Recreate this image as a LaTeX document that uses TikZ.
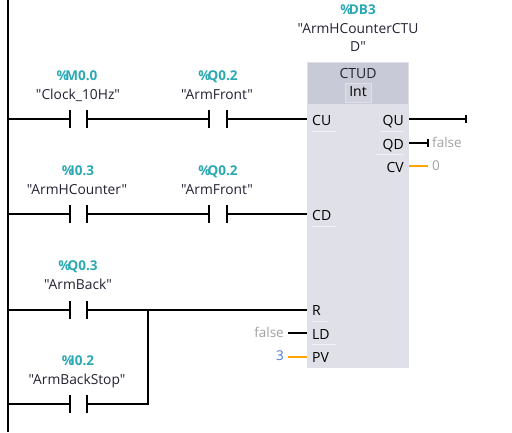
\documentclass[tikz,border=0pt]{standalone}
\usepackage{fontspec}
\newfontfamily\uifont{Open Sans}
\definecolor{addr}{HTML}{2BA9B3}
\definecolor{hdr}{HTML}{C9CAD7}
\definecolor{bodyc}{HTML}{DFE0E8}
\definecolor{pinl}{HTML}{F2F2F6}
\definecolor{wireo}{HTML}{FFA500}
\definecolor{greyt}{HTML}{A3A3A3}
\definecolor{bluet}{HTML}{4A78D8}
\definecolor{textc}{HTML}{222233}
\tikzset{
  wire/.style={draw=black,line width=2.4pt},
  owire/.style={draw=wireo,line width=2.4pt},
  addrt/.style={inner sep=0pt,anchor=base,text=addr,font=\uifont\fontsize{13.5}{15}\selectfont\bfseries},
  tagt/.style={inner sep=0pt,anchor=base,text=textc,font=\uifont\fontsize{13.8}{15}\selectfont},
  pint/.style={inner sep=0pt,text=black,font=\uifont\fontsize{14}{16}\selectfont},
  valt/.style={inner sep=0pt,text=greyt,font=\uifont\fontsize{13.5}{15}\selectfont},
  pinline/.style={draw=pinl,line width=1pt}
}
\begin{document}
\begin{tikzpicture}[x=1pt,y=-1pt]
\useasboundingbox (0,0) rectangle (512,432);
\fill[white] (0,0) rectangle (512,432);
% block
\fill[bodyc] (307,62) rectangle (409,368);
\fill[hdr] (308,63) rectangle (408,104);
\draw[draw=bodyc,fill=hdr!85!white,line width=.6pt] (345,83.5) rectangle (371,102);
\node[pint,anchor=base,text=textc] (ctud) at (358,78) {CTUD};
\node[pint,anchor=base] (inttype) at (358,96.5) {Int};
% rail
\coordinate (railT) at (8,0);
\coordinate (railB) at (8,432);
\draw[wire] (railT) -- (railB);
% contact plates
\foreach \n/\x/\y in {a/70/119,b/87/119,c/209/119,d/227/119,
  e/70/214,f/87/214,g/209/214,h/227/214,
  i/70/310,j/87/310,k/70/404,l/87/404}{
  \coordinate (\n) at (\x,\y);
  \draw[wire] ([yshift=-9pt]\n) -- ([yshift=9pt]\n);
}
\coordinate (r1) at (8,119);
\coordinate (r2) at (8,214);
\coordinate (r3) at (8,310);
\coordinate (r4) at (8,404);
\coordinate (cu) at (307,119);
\coordinate (cd) at (307,214);
\coordinate (rr) at (307,310);
\coordinate (ld) at (307,333);
\coordinate (pv) at (307,357);
\coordinate (ldE) at (288,333);
\coordinate (pvE) at (288,357);
\coordinate (qu) at (409,119);
\coordinate (qd) at (409,143);
\coordinate (cv) at (409,166);
\coordinate (quE) at (466,119);
\coordinate (qdE) at (428,143);
\coordinate (cvE) at (428,166);
\coordinate (br1) at (148,310);
\coordinate (br2) at (148,404);
% wires
\draw[wire] (r1) -- (a);
\draw[wire] (b) -- (c);
\draw[wire] (d) -- (cu);
\draw[wire] (r2) -- (e);
\draw[wire] (f) -- (g);
\draw[wire] (h) -- (cd);
\draw[wire] (r3) -- (i);
\draw[wire] (j) -- (rr);
\draw[wire] (l) -- (br2) -- (br1);
\draw[wire] (r4) -- (k);
\draw[wire] (qu) -- (quE);
\draw[wire] ([yshift=-4pt]quE) -- ([yshift=4pt]quE);
\draw[wire] (qd) -- (qdE);
\draw[wire] ([yshift=-4pt]qdE) -- ([yshift=4pt]qdE);
\draw[owire] (cv) -- (cvE);
\draw[wire] (ldE) -- (ld);
\draw[owire] (pvE) -- (pv);
% labels
\node[addrt] (a1) at (77,80) {\%\kern-3.5pt M0.0};
\node[tagt] (t1) at (78,99) {"Clock\_10Hz"};
\node[addrt] (a2) at (218,80) {\%\kern-3pt Q0.2};
\node[tagt] (t2) at (217,99) {"ArmFront"};
\node[addrt] (a3) at (78,175.5) {\%\kern-3.5pt I0.3};
\node[tagt] (t3) at (77,194.5) {"ArmHCounter"};
\node[addrt] (a4) at (218,175.5) {\%\kern-3pt Q0.2};
\node[tagt] (t4) at (217,194.5) {"ArmFront"};
\node[addrt] (a5) at (78,270.5) {\%\kern-3pt Q0.3};
\node[tagt] (t5) at (78,289.5) {"ArmBack"};
\node[addrt] (a6) at (78,365.5) {\%\kern-3.5pt I0.2};
\node[tagt] (t6) at (77,384.5) {"ArmBackStop"};
\node[addrt] (a7) at (358,14.5) {\%\kern-3.5pt DB3};
\node[tagt] (t7) at (358,33) {"ArmHCounterCTU};
\node[tagt] (t8) at (358,51) {D"};
% pins
\node[pint,anchor=base west] (pcu) at (312,125) {CU};
\node[pint,anchor=base west] (pcd) at (312,220.5) {CD};
\node[pint,anchor=base west] (pr) at (312,315.5) {R};
\node[pint,anchor=base west] (pld) at (312,339) {LD};
\node[pint,anchor=base west] (ppv) at (312,362.5) {PV};
\node[pint,anchor=base east] (pqu) at (404,125) {QU};
\node[pint,anchor=base east] (pqd) at (404,149) {QD};
\node[pint,anchor=base east] (pcv) at (404,172.5) {CV};
\draw[pinline] (312,131) -- (336,131);
\draw[pinline] (312,226) -- (336,226);
\draw[pinline] (312,321) -- (328,321);
\draw[pinline] (312,344.5) -- (336,344.5);
\draw[pinline] (380,131) -- (404,131);
\draw[pinline] (376,154.5) -- (404,154.5);
% values
\node[valt,anchor=base west] (v1) at (432,147) {false};
\node[valt,anchor=base west] (v2) at (432,170.5) {0};
\node[valt,anchor=base east] (v3) at (284,337) {false};
\node[valt,anchor=base east,text=bluet] (v4) at (284,360.5) {3};
\end{tikzpicture}
\end{document}
